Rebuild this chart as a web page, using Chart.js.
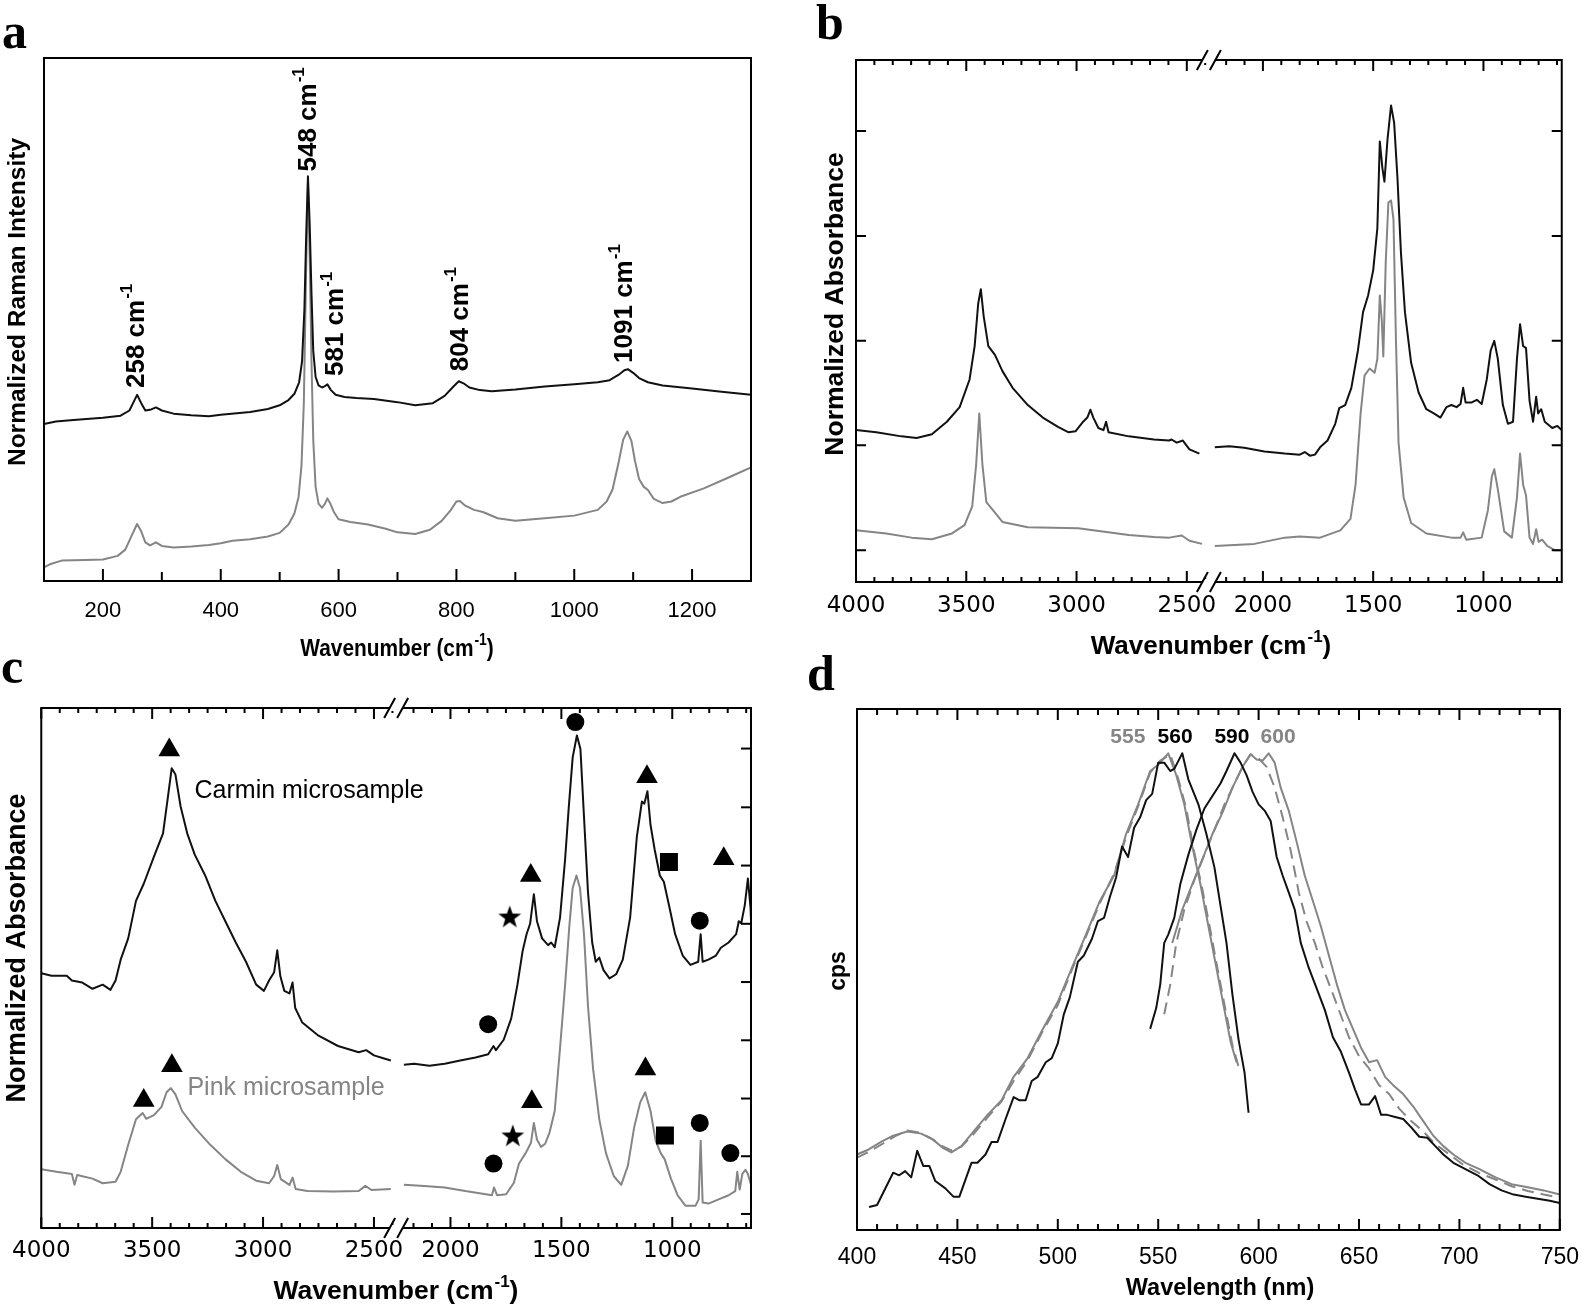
<!DOCTYPE html>
<html><head><meta charset="utf-8">
<script src="https://cdn.jsdelivr.net/npm/chart.js@4.4.0/dist/chart.umd.min.js"></script>
<style>
html,body{margin:0;padding:0;background:#fff;width:1595px;height:1307px;overflow:hidden;position:relative;}
canvas{position:absolute;}
.lbl{position:absolute;font-family:'Liberation Serif','Times New Roman',serif;font-weight:bold;font-size:50px;line-height:50px;color:#000;z-index:5;}
</style></head><body>
<canvas id="ca" width="790" height="680" style="left:0;top:0"></canvas>
<canvas id="cb" width="805" height="680" style="left:790px;top:0"></canvas>
<canvas id="cc" width="790" height="627" style="left:0;top:680px"></canvas>
<canvas id="cd" width="805" height="627" style="left:790px;top:680px"></canvas>
<div class="lbl" style="left:2px;top:6px">a</div>
<div class="lbl" style="left:816px;top:-3px">b</div>
<div class="lbl" style="left:1px;top:641px">c</div>
<div class="lbl" style="left:807px;top:648px">d</div>
<script>
// ---------------- DATA ----------------
// Panel a: Raman spectra (wavenumber, normalized intensity %)
const aTickLabels = [200, 400, 600, 800, 1000, 1200];
const aBlack = [[100,30.0],[120,30.5],[150,30.8],[200,31.2],[230,31.6],[245,32.6],[252,34.2],[258,35.6],[265,34.0],[272,32.6],[282,32.8],[290,33.2],[300,32.6],[320,32.0],[350,31.7],[380,31.5],[400,31.8],[450,32.3],[480,32.9],[500,33.6],[515,34.6],[525,35.8],[533,38.0],[538,42.0],[542,52.0],[545,66.0],[548,77.4],[551,68.0],[554,55.0],[557,44.0],[561,39.0],[566,37.4],[572,37.0],[576,37.2],[581,37.6],[587,36.5],[595,35.6],[610,35.2],[630,35.0],[660,34.8],[700,34.2],[730,33.6],[760,34.0],[780,35.4],[795,37.2],[804,38.2],[812,37.8],[822,37.0],[840,36.5],[860,36.3],[900,36.6],[950,37.2],[1000,37.6],[1040,38.0],[1060,38.4],[1075,39.4],[1085,40.3],[1091,40.5],[1100,39.8],[1110,38.8],[1125,38.0],[1150,37.4],[1200,36.8],[1250,36.2],[1300,35.6]];
const aGrey = [[100,2.6],[110,3.2],[130,3.9],[170,4.0],[200,4.1],[225,4.8],[238,6.0],[248,8.5],[258,10.9],[265,9.5],[272,7.4],[280,6.8],[290,7.4],[300,6.7],[320,6.4],[350,6.6],[380,6.9],[400,7.2],[420,7.7],[450,8.0],[480,8.5],[500,9.2],[515,10.8],[525,12.9],[532,16.0],[537,22.0],[541,34.0],[545,60.0],[548,76.0],[551,62.0],[554,42.0],[557,27.0],[561,18.0],[566,14.8],[572,14.0],[577,14.8],[581,15.8],[586,14.8],[592,13.2],[600,11.8],[620,11.3],[650,10.8],[680,10.0],[700,9.3],[730,9.0],[755,9.8],[775,11.5],[790,13.5],[800,15.2],[806,15.3],[815,14.4],[830,13.6],[845,13.2],[870,12.0],[900,11.5],[950,12.0],[1000,12.5],[1040,13.6],[1055,15.2],[1065,17.5],[1075,22.5],[1083,27.0],[1090,28.6],[1097,26.8],[1103,23.0],[1110,19.5],[1118,18.0],[1125,17.4],[1135,15.7],[1150,14.9],[1165,15.2],[1180,16.1],[1220,17.7],[1260,19.7],[1300,21.7]];
const aPeakNames = ['258', '548', '581', '804', '1091'];
const aPeakLabelX = [258, 550, 596, 807, 1086];
const aPeakLabelY = [36.9, 78.3, 39.2, 40.1, 41.7];

// Panels b, c: broken wavenumber axis
const bcLeftRange = [2400, 4000];
const bcRightRange = [645, 2245];
const bcLeftLabels = [4000, 3500, 3000, 2500];
const bcRightLabels = [2000, 1500, 1000];

// Panel b: FTIR (wavenumber, absorbance %)
const bYTicks = [6.1, 26.2, 46.2, 66.3, 86.4];
const bBlackLeft = [[4000,29.1],[3908,28.7],[3794,27.9],[3725,27.6],[3656,28.3],[3588,30.7],[3530,33.5],[3485,38.8],[3462,45.2],[3446,53.3],[3434,56.1],[3421,50.9],[3400,45.2],[3370,43.5],[3336,40.4],[3290,37.2],[3221,33.9],[3153,31.5],[3084,29.7],[3038,28.7],[3004,28.9],[2970,30.7],[2951,31.5],[2937,33.0],[2924,31.5],[2901,29.5],[2878,29.1],[2866,30.7],[2855,28.7],[2763,27.9],[2649,27.3],[2580,27.1],[2569,27.3],[2546,26.7],[2518,27.1],[2488,25.4],[2443,24.6]];
const bBlackRight = [[2218,25.8],[2153,26.0],[2085,25.7],[1993,25.0],[1901,24.6],[1833,24.4],[1810,24.9],[1787,24.2],[1764,24.4],[1741,25.8],[1707,27.1],[1672,30.3],[1654,33.3],[1627,33.9],[1599,37.2],[1569,44.4],[1546,51.7],[1523,54.9],[1500,59.7],[1481,67.8],[1470,84.4],[1458,79.2],[1449,76.7],[1435,84.8],[1419,91.3],[1405,88.0],[1390,77.5],[1374,63.0],[1356,51.7],[1328,42.0],[1294,36.3],[1259,33.1],[1225,32.3],[1195,31.5],[1168,33.5],[1145,33.9],[1122,33.5],[1104,34.1],[1092,37.2],[1081,34.4],[1053,34.4],[1030,34.9],[1008,34.1],[985,38.8],[967,44.4],[951,46.2],[935,42.8],[912,33.9],[889,30.3],[866,30.7],[848,42.8],[834,49.4],[820,45.2],[807,44.8],[791,34.7],[775,30.7],[761,35.5],[752,32.3],[738,33.1],[722,30.7],[688,29.5],[665,29.9],[645,29.1]];
const bGreyLeft = [[4000,9.9],[3863,9.3],[3748,8.5],[3656,8.2],[3565,9.3],[3508,10.9],[3473,14.5],[3455,22.6],[3441,32.3],[3427,22.6],[3409,15.3],[3370,13.3],[3336,11.5],[3221,10.5],[2992,10.3],[2763,9.0],[2649,8.6],[2580,8.5],[2523,8.9],[2488,7.9],[2431,7.3]];
const bGreyRight = [[2218,6.9],[2039,7.3],[1901,8.5],[1833,8.7],[1741,8.5],[1649,9.9],[1603,12.1],[1580,18.6],[1557,32.3],[1539,39.6],[1516,40.9],[1493,40.1],[1481,42.8],[1470,54.9],[1461,50.1],[1454,43.2],[1443,61.4],[1431,72.7],[1419,73.1],[1408,69.5],[1397,46.8],[1385,26.7],[1362,16.2],[1328,11.3],[1259,9.3],[1145,8.5],[1104,8.5],[1092,9.5],[1078,8.1],[1008,8.5],[980,13.7],[962,20.2],[951,21.6],[935,17.8],[906,9.7],[871,8.5],[848,16.2],[834,24.6],[820,18.6],[807,16.6],[791,8.5],[775,7.3],[761,10.1],[750,7.7],[734,8.1],[711,6.9],[677,6.1],[645,6.1]];

// Panel c: FTIR of microsamples
const cYTicks = [2.7, 13.8, 24.9, 36.1, 47.3, 58.5, 69.7, 80.9, 92.2];
const cBlackLeft = [[4000,49.0],[3954,48.5],[3885,48.5],[3862,47.6],[3815,47.2],[3769,46.0],[3723,46.8],[3688,45.8],[3665,47.6],[3642,51.6],[3608,55.7],[3573,62.9],[3538,66.2],[3492,71.4],[3451,75.9],[3428,83.2],[3412,88.4],[3395,87.2],[3372,81.1],[3342,75.9],[3308,71.8],[3261,67.8],[3215,62.9],[3169,58.9],[3123,54.9],[3077,51.2],[3031,46.8],[2996,45.6],[2973,47.6],[2950,49.2],[2936,53.4],[2922,48.4],[2904,45.6],[2881,45.1],[2867,47.2],[2855,42.3],[2823,39.5],[2754,37.1],[2662,35.0],[2569,33.8],[2535,34.2],[2500,33.2],[2454,32.6],[2424,32.2]];
const cBlackRight = [[2210,31.4],[2164,31.6],[2095,31.2],[2026,31.6],[1956,32.2],[1887,32.8],[1830,33.4],[1806,35.0],[1795,34.2],[1760,36.2],[1726,40.3],[1698,46.8],[1675,53.2],[1657,56.5],[1641,58.5],[1624,64.2],[1610,59.0],[1587,55.7],[1560,54.4],[1546,54.9],[1530,54.0],[1506,59.7],[1483,71.0],[1467,80.7],[1449,90.5],[1430,94.7],[1414,92.1],[1398,79.1],[1380,64.6],[1361,54.9],[1345,51.2],[1329,52.0],[1310,49.6],[1283,48.0],[1253,48.8],[1223,51.6],[1190,59.7],[1160,75.1],[1137,82.0],[1126,81.6],[1112,84.0],[1098,77.5],[1079,72.7],[1056,67.8],[1038,66.6],[1015,62.1],[987,56.5],[953,52.4],[918,50.6],[883,51.2],[872,56.5],[863,51.2],[837,51.6],[803,52.4],[781,53.9],[746,54.9],[712,56.5],[700,59.0],[689,58.6],[673,62.1],[659,67.2],[647,61.5],[645,59.3]];
const cGreyLeft = [[4000,11.3],[3931,10.8],[3862,10.4],[3850,8.3],[3838,10.2],[3769,9.5],[3723,8.6],[3665,8.9],[3642,10.8],[3608,16.0],[3573,20.9],[3543,22.1],[3527,21.0],[3492,21.7],[3458,23.3],[3435,26.1],[3416,26.9],[3395,25.7],[3365,22.5],[3308,19.3],[3238,16.0],[3169,13.2],[3100,10.8],[3031,9.1],[2973,8.6],[2950,10.0],[2936,12.1],[2920,9.4],[2881,8.3],[2867,9.7],[2853,7.5],[2800,7.1],[2685,7.0],[2569,7.1],[2539,8.1],[2511,7.3],[2424,7.5]];
const cGreyRight = [[2210,8.3],[2118,8.1],[2026,7.8],[1933,7.1],[1841,6.5],[1813,6.3],[1804,7.8],[1790,6.3],[1749,6.5],[1714,8.7],[1691,12.4],[1661,14.4],[1637,16.4],[1624,20.2],[1610,17.0],[1592,15.6],[1573,16.2],[1553,18.4],[1530,22.5],[1506,34.6],[1483,46.8],[1464,58.1],[1449,65.4],[1432,67.8],[1416,65.4],[1398,56.5],[1380,42.7],[1357,30.6],[1329,20.9],[1299,14.4],[1264,10.0],[1230,8.3],[1200,12.0],[1172,19.3],[1145,24.1],[1122,26.1],[1098,22.5],[1075,16.8],[1052,14.4],[1034,13.2],[1006,9.5],[976,6.3],[941,4.3],[895,4.3],[881,5.5],[872,16.8],[863,4.9],[837,4.7],[791,5.5],[746,6.3],[716,7.1],[707,10.8],[696,7.4],[684,10.4],[670,11.2],[659,10.4],[645,8.3]];
// band markers (wavenumber, height)
const cTrianglesLeft = [[3423,91.9],[3411,31.2],[3538,24.5]];
const cTrianglesRight = [[1114,86.8],[768,71.0],[1638,67.8],[1121,30.6],[1633,24.3]];
const cCircles = [[1437,97.3],[876,59.1],[1830,39.2],[876,20.2],[738,14.4],[1806,12.4]];
const cSquares = [[1015,70.4],[1033,17.8]];
const cStars = [[1733,59.9],[1719,17.8]];

// Panel d: excitation / emission (nm, cps %)
const dTickLabels = [400, 450, 500, 550, 600, 650, 700, 750];
const dExBlack = [[406,4.4],[410,4.8],[418,11.0],[421,10.5],[424,11.3],[427,10.1],[430,15.2],[433,12.3],[436,12.3],[439,9.4],[444,8.0],[448,6.4],[451,6.4],[457,12.9],[460,12.9],[464,14.5],[467,16.9],[470,16.9],[474,21.3],[478,25.5],[481,24.9],[484,24.9],[487,28.6],[490,29.4],[494,32.2],[497,33.0],[500,35.8],[503,41.4],[506,44.7],[510,51.5],[513,52.7],[517,55.9],[520,59.3],[523,59.9],[526,64.0],[529,67.6],[532,73.6],[535,71.6],[538,77.2],[541,79.2],[544,82.5],[547,83.7],[550,89.7],[553,89.7],[556,88.1],[558,88.5],[562,91.5],[565,86.5],[570,81.7],[574,76.0],[578,69.6],[581,62.3],[584,55.1],[587,45.1],[590,36.6],[593,30.2],[595,22.5]];
const dExGrey = [[400,14.5],[405,15.3],[412,16.9],[418,18.1],[425,18.9],[432,18.5],[438,17.3],[443,15.7],[447,14.9],[452,16.1],[458,18.9],[465,22.1],[472,24.9],[478,29.4],[485,33.0],[492,38.2],[500,43.8],[507,50.3],[514,56.7],[521,63.2],[528,68.0],[534,76.0],[540,81.7],[546,88.1],[550,89.3],[555,91.5],[559,87.3],[563,81.7],[567,73.6],[571,66.4],[575,58.3],[579,50.3],[583,42.2],[586,36.2],[589,32.2]];
const dExGreyDash = [[400,13.9],[406,15.0],[413,16.6],[419,18.0],[425,19.1],[431,18.7],[437,17.6],[442,16.2],[447,15.3],[452,16.0],[458,18.4],[465,21.6],[472,24.7],[478,28.6],[485,32.6],[492,37.8],[500,43.2],[507,49.9],[514,56.3],[521,62.8],[528,68.4],[534,75.4],[540,81.3],[546,87.8],[551,90.1],[556,91.3],[560,86.6],[564,80.8],[568,72.4],[572,65.4],[576,57.5],[580,49.2],[584,41.3],[587,35.4],[590,31.4]];
const dEmBlack = [[546,38.6],[549,42.6],[551,47.1],[553,55.1],[555,56.7],[558,59.9],[561,66.4],[565,72.0],[569,76.8],[573,80.9],[577,83.3],[581,85.7],[584,88.1],[588,91.5],[591,89.7],[594,87.3],[597,84.1],[600,81.7],[603,80.5],[606,78.5],[609,71.6],[612,68.0],[615,64.8],[618,61.5],[621,55.1],[625,50.3],[629,46.3],[633,42.2],[637,37.0],[641,34.2],[645,30.2],[648,27.0],[651,24.1],[655,24.1],[658,25.7],[661,22.1],[664,22.1],[668,21.7],[672,21.3],[676,19.7],[680,17.9],[684,17.7],[688,16.1],[692,14.5],[697,12.9],[703,11.7],[709,10.5],[715,8.8],[721,7.6],[727,6.8],[733,6.4],[739,6.0],[745,5.6],[750,5.2]];
const dEmGrey = [[557,55.1],[562,61.5],[567,66.4],[572,71.2],[577,76.0],[582,80.1],[587,84.9],[592,88.9],[596,91.3],[599,90.3],[602,90.1],[605,91.5],[608,89.7],[611,84.9],[615,80.5],[619,74.4],[623,68.0],[627,63.2],[631,58.3],[635,52.7],[639,47.1],[643,42.2],[647,38.6],[651,35.0],[655,32.2],[659,32.6],[663,29.4],[667,27.8],[672,26.1],[677,23.7],[682,20.9],[687,18.1],[692,16.1],[697,14.5],[703,12.9],[710,11.7],[718,10.1],[726,8.8],[734,8.2],[742,7.6],[750,6.8]];
const dEmGreyDash = [[553,41.4],[556,47.1],[559,55.1],[563,61.5],[568,67.2],[573,72.0],[578,76.8],[583,81.7],[588,85.7],[592,88.9],[596,91.3],[600,90.5],[604,88.9],[608,84.9],[612,79.2],[616,72.8],[620,64.8],[624,59.1],[628,55.1],[632,50.3],[636,46.3],[640,42.2],[645,37.0],[650,33.4],[655,31.0],[660,27.8],[665,26.1],[670,23.3],[676,20.9],[682,18.9],[688,16.5],[695,14.5],[702,12.5],[710,10.9],[718,9.7],[726,8.4],[734,7.5],[742,6.8],[750,6.2]];
const dPeakNames = ['555', '560', '590', '600'];
const dPeakLabelX = [534.9, 558.4, 586.7, 609.7];
const dPeakLabelY = 94.5;

// ---------------- RENDERING ----------------
const BLACK = '#111111', GREY = '#858585';
const SANS = "'Liberation Sans', Arial, Helvetica, sans-serif";
Chart.defaults.font.family = SANS;
Chart.defaults.color = '#000';
Chart.defaults.animation = false;

const pts = arr => arr.map(p => ({x: p[0], y: p[1]}));
function lineDS(data, color, xid, dash, order) {
  return {type: 'line', data: pts(data), borderColor: color, borderWidth: 2, pointRadius: 0,
    tension: 0, fill: false, xAxisID: xid, yAxisID: 'y', borderDash: dash || [], order: order || 1,
    borderJoinStyle: 'round', borderCapStyle: 'butt'};
}
function markDS(data, style, r, xid) {
  return {type: 'scatter', data: pts(data), pointStyle: style, pointRadius: r, pointHoverRadius: r,
    backgroundColor: '#000', borderColor: '#000', borderWidth: 0, xAxisID: xid, yAxisID: 'y', order: 0};
}
function starCanvas(size) {
  const c = document.createElement('canvas'); c.width = size; c.height = size;
  const g = c.getContext('2d'); g.fillStyle = '#000'; g.beginPath();
  for (let i = 0; i < 10; i++) {
    const r = (i % 2) ? size * 0.2 : size * 0.5;
    const a = -Math.PI / 2 + i * Math.PI / 5;
    g.lineTo(size / 2 + r * Math.cos(a), size / 2 + r * Math.sin(a) + size * 0.04);
  }
  g.closePath(); g.fill(); return c;
}

function drawText(ctx, t) {
  ctx.save();
  ctx.translate(t.x, t.y);
  if (t.rotate) ctx.rotate(-Math.PI / 2);
  if (t.sx) ctx.scale(t.sx, 1);
  ctx.fillStyle = t.color || '#000';
  ctx.textBaseline = 'middle';
  ctx.textAlign = 'left';
  const w = t.bold ? 'bold ' : '';
  const mainFont = w + t.size + 'px ' + (t.family || SANS);
  const supFont = w + Math.round(t.size * 0.66) + 'px ' + (t.family || SANS);
  ctx.font = mainFont; const w1 = ctx.measureText(t.text).width;
  let w2 = 0, w3 = 0;
  if (t.sup) { ctx.font = supFont; w2 = ctx.measureText(t.sup).width + 1; }
  if (t.after) { ctx.font = mainFont; w3 = ctx.measureText(t.after).width; }
  const tot = w1 + w2 + w3;
  let x0 = t.align === 'center' ? -tot / 2 : (t.align === 'right' ? -tot : 0);
  ctx.font = mainFont; ctx.fillText(t.text, x0, 0);
  if (t.sup) { ctx.font = supFont; ctx.fillText(t.sup, x0 + w1 + 1, -t.size * 0.36); }
  if (t.after) { ctx.font = mainFont; ctx.fillText(t.after, x0 + w1 + w2, 0); }
  ctx.restore();
}

function decor(spec) {
  return {
    id: 'decor',
    afterDraw(chart) {
      const ctx = chart.ctx, A = chart.chartArea;
      ctx.save();
      ctx.strokeStyle = '#000'; ctx.lineWidth = 2; ctx.lineCap = 'butt';
      // x tick marks
      (spec.xTicks || []).forEach(tk => {
        const s = chart.scales[tk.axis];
        const lo = Math.min(s.min, s.max), hi = Math.max(s.min, s.max);
        const marks = [];
        for (let k = 0; k < 500; k++) {
          const v = tk.start + k * tk.step;
          if (v < lo - 1e-6 || v > hi + 1e-6) break;
          marks.push({x: s.getPixelForValue(v), major: k % tk.every === 0});
        }
        marks.forEach(m => {
          const len = m.major ? tk.majorLen : tk.minorLen;
          ctx.beginPath();
          tk.sides.forEach(side => {
            if (side === 'bottom') { ctx.moveTo(m.x, A.bottom); ctx.lineTo(m.x, A.bottom - len); }
            else { ctx.moveTo(m.x, A.top); ctx.lineTo(m.x, A.top + len); }
          });
          ctx.stroke();
        });
      });
      // y tick marks
      if (spec.yTicks) {
        const s = chart.scales.y;
        spec.yTicks.values.forEach(v => {
          const y = s.getPixelForValue(v);
          ctx.beginPath();
          spec.yTicks.sides.forEach(side => {
            if (side === 'left') { ctx.moveTo(A.left, y); ctx.lineTo(A.left + spec.yTicks.len, y); }
            else { ctx.moveTo(A.right, y); ctx.lineTo(A.right - spec.yTicks.len, y); }
          });
          ctx.stroke();
        });
      }
      // frame
      ctx.strokeRect(A.left, A.top, A.right - A.left, A.bottom - A.top);
      // axis break marks
      if (spec.breakAt) {
        const bx = chart.scales[spec.breakAt].right;
        [A.top, A.bottom].forEach(y => {
          ctx.fillStyle = '#fff';
          ctx.fillRect(bx - 6, y - 3, 12, 6);
          ctx.beginPath();
          ctx.moveTo(bx - 12, y + 10); ctx.lineTo(bx - 1, y - 10);
          ctx.moveTo(bx + 1, y + 10); ctx.lineTo(bx + 12, y - 10);
          ctx.stroke();
        });
      }
      ctx.restore();
      // texts
      const off = spec.offset;
      (spec.texts || []).forEach(t => drawText(ctx, Object.assign({}, t, {x: t.x - off[0], y: t.y - off[1]})));
      (spec.dataTexts || []).forEach(t => {
        const sx = chart.scales[t.axis || 'x'], sy = chart.scales.y;
        drawText(ctx, Object.assign({}, t, {x: sx.getPixelForValue(t.vx), y: sy.getPixelForValue(t.vy)}));
      });
    }
  };
}

function xAxis(min, max, labels, fontCfg, pad, extra) {
  return Object.assign({
    type: 'linear', position: 'bottom', min: min, max: max,
    grid: {display: false, drawTicks: false}, border: {display: false},
    ticks: {autoSkip: false, maxRotation: 0, minRotation: 0, padding: pad, font: fontCfg, color: '#000',
      callback: v => String(v)},
    afterBuildTicks: s => { s.ticks = labels.map(v => ({value: v})); },
    afterFit: s => { s.height = 60; }
  }, extra || {});
}
function baseOptions(padding, scales) {
  return {responsive: false, devicePixelRatio: 1, animation: false,
    layout: {padding: padding},
    plugins: {legend: {display: false}, tooltip: {enabled: false}, title: {display: false}},
    events: [], scales: scales};
}

// ---------- Panel a ----------
new Chart(document.getElementById('ca'), {
  type: 'line',
  data: {datasets: [lineDS(aBlack, BLACK, 'x', null, 1), lineDS(aGrey, GREY, 'x', null, 2)]},
  options: baseOptions({left: 44, top: 58, right: 39, bottom: 39}, {
    x: xAxis(100, 1300, aTickLabels, {family: SANS, size: 22, lineHeight: 1}, 19),
    y: {display: false, min: 0, max: 100}
  }),
  plugins: [decor({
    offset: [0, 0],
    xTicks: [{axis: 'x', start: 200, step: 100, every: 2, majorLen: 12, minorLen: 9, sides: ['bottom']},
             {axis: 'x', start: 100, step: -100, every: 2, majorLen: 9, minorLen: 9, sides: ['bottom']}],
    texts: [
      {text: 'Wavenumber (cm', sup: '-1', after: ')', x: 397, y: 649, size: 24, bold: true, align: 'center', sx: 0.87},
      {text: 'Normalized Raman Intensity', x: 18, y: 302, size: 24.5, bold: true, align: 'center', rotate: true}
    ],
    dataTexts: aPeakNames.map((n, i) => ({text: n + ' cm', sup: '-1', vx: aPeakLabelX[i], vy: aPeakLabelY[i],
      size: 26, bold: true, rotate: true, align: 'left'}))
  })]
});

// ---------- Panel b ----------
const bcTickFont = {family: "'DejaVu Sans', sans-serif", size: 23, lineHeight: 1};
function bcScales(pad) {
  return {
    xL: xAxis(bcLeftRange[0], bcLeftRange[1], bcLeftLabels, bcTickFont, pad, {reverse: true, stack: 'bx', stackWeight: 1}),
    xR: xAxis(bcRightRange[0], bcRightRange[1], bcRightLabels, bcTickFont, pad, {reverse: true, stack: 'bx', stackWeight: 1}),
    y: {display: false, min: 0, max: 100}
  };
}
const bcXTicks = [
  {axis: 'xL', start: 4000, step: -500 / 6, every: 6, majorLen: 11, minorLen: 5, sides: ['bottom', 'top']},
  {axis: 'xR', start: 2000, step: -500 / 6, every: 6, majorLen: 11, minorLen: 5, sides: ['bottom', 'top']},
  {axis: 'xR', start: 2000 + 500 / 6, step: 500 / 6, every: 6, majorLen: 5, minorLen: 5, sides: ['bottom', 'top']}
];
new Chart(document.getElementById('cb'), {
  type: 'line',
  data: {datasets: [lineDS(bBlackLeft, BLACK, 'xL', null, 1), lineDS(bBlackRight, BLACK, 'xR', null, 1),
    lineDS(bGreyLeft, GREY, 'xL', null, 2), lineDS(bGreyRight, GREY, 'xR', null, 2)]},
  options: baseOptions({left: 66, top: 60, right: 29, bottom: 38}, bcScales(13)),
  plugins: [decor({
    offset: [790, 0],
    xTicks: bcXTicks,
    yTicks: {values: bYTicks, len: 10, sides: ['left', 'right']},
    breakAt: 'xL',
    texts: [
      {text: 'Wavenumber (cm', sup: '-1', after: ')', x: 1211, y: 647, size: 26, bold: true, align: 'center'},
      {text: 'Normalized Absorbance', x: 836, y: 304, size: 26.5, bold: true, align: 'center', rotate: true}
    ]
  })]
});

// ---------- Panel c ----------
const star = starCanvas(24);
new Chart(document.getElementById('cc'), {
  type: 'line',
  data: {datasets: [
    markDS(cTrianglesLeft, 'triangle', 12.5, 'xL'), markDS(cTrianglesRight, 'triangle', 12.5, 'xR'),
    markDS(cCircles, 'circle', 9, 'xR'), markDS(cSquares, 'rect', 12.7, 'xR'), markDS(cStars, star, 12, 'xR'),
    lineDS(cBlackLeft, BLACK, 'xL', null, 1), lineDS(cBlackRight, BLACK, 'xR', null, 1),
    lineDS(cGreyLeft, GREY, 'xL', null, 2), lineDS(cGreyRight, GREY, 'xR', null, 2)]},
  options: baseOptions({left: 41, top: 28, right: 39, bottom: 19}, bcScales(12)),
  plugins: [decor({
    offset: [0, 680],
    xTicks: bcXTicks,
    yTicks: {values: cYTicks, len: 10, sides: ['right']},
    breakAt: 'xL',
    texts: [
      {text: 'Wavenumber (cm', sup: '-1', after: ')', x: 396, y: 1292, size: 26.5, bold: true, align: 'center'},
      {text: 'Normalized Absorbance', x: 18, y: 948, size: 27, bold: true, align: 'center', rotate: true}
    ],
    dataTexts: [
      {text: 'Carmin microsample', axis: 'xL', vx: 3309, vy: 84.1, size: 25, align: 'left', color: '#000'},
      {text: 'Pink microsample', axis: 'xL', vx: 3341, vy: 26.9, size: 25, align: 'left', color: GREY}
    ]
  })]
});

// ---------- Panel d ----------
new Chart(document.getElementById('cd'), {
  type: 'line',
  data: {datasets: [
    lineDS(dExBlack, BLACK, 'x', null, 1), lineDS(dEmBlack, BLACK, 'x', null, 1),
    lineDS(dExGrey, GREY, 'x', null, 2), lineDS(dEmGrey, GREY, 'x', null, 2),
    lineDS(dExGreyDash, GREY, 'x', [12, 7], 3), lineDS(dEmGreyDash, GREY, 'x', [12, 7], 3)]},
  options: baseOptions({left: 67, top: 29, right: 22, bottom: 17}, {
    x: xAxis(400, 750, dTickLabels, {family: SANS, size: 23, lineHeight: 1}, 16),
    y: {display: false, min: 0, max: 100}
  }),
  plugins: [decor({
    offset: [790, 680],
    xTicks: [{axis: 'x', start: 400, step: 10, every: 5, majorLen: 11, minorLen: 6, sides: ['bottom', 'top']}],
    texts: [
      {text: 'Wavelength (nm)', x: 1220, y: 1289, size: 23.5, bold: true, align: 'center'},
      {text: 'cps', x: 839, y: 971, size: 23, bold: true, align: 'center', rotate: true}
    ],
    dataTexts: dPeakNames.map((n, i) => ({text: n, vx: dPeakLabelX[i], vy: dPeakLabelY, size: 21, bold: true,
      align: 'center', color: (i === 0 || i === 3) ? GREY : '#000'}))
  })]
});
</script>
</body></html>
